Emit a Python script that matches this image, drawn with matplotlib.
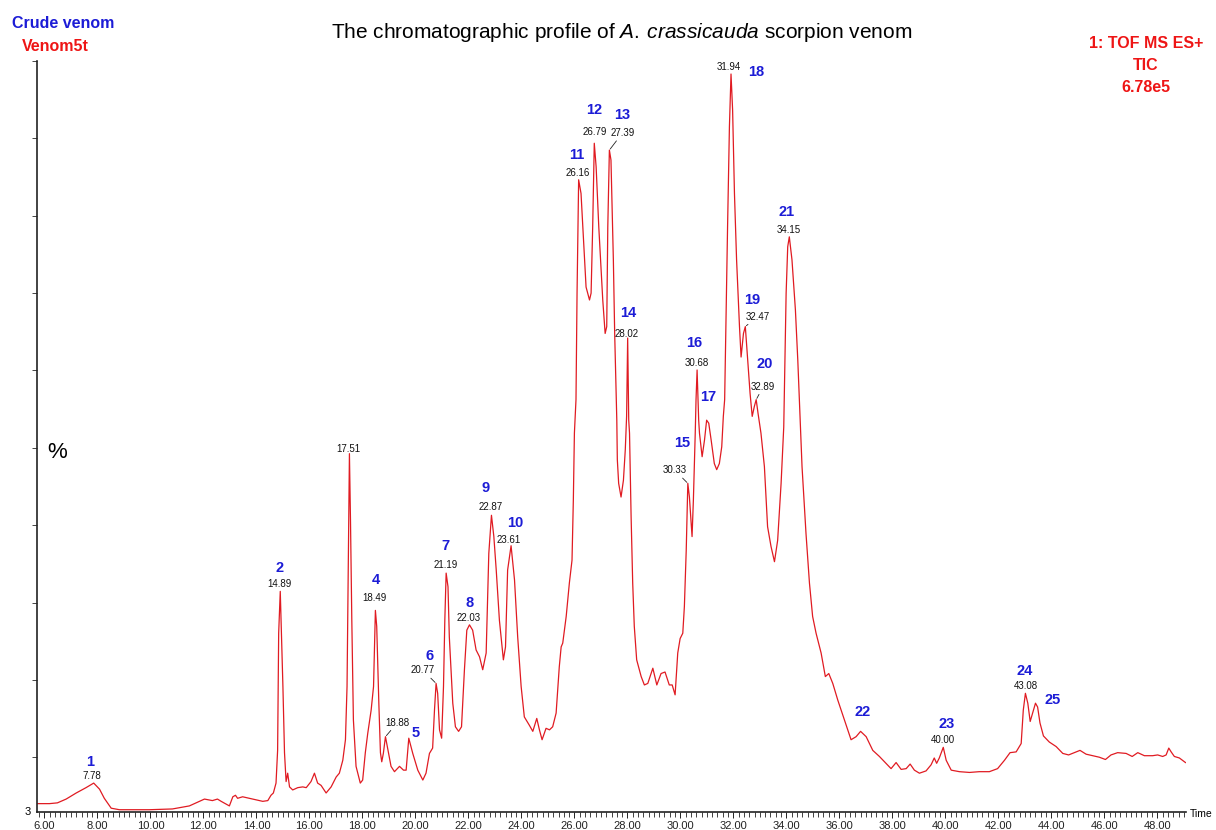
import numpy as np
import matplotlib
matplotlib.use("Agg")
import matplotlib.pyplot as plt
from matplotlib.ticker import MultipleLocator, FormatStrFormatter

plt.rcParams['font.family'] = ['Liberation Sans', 'DejaVu Sans']
plt.rcParams['mathtext.fontset'] = 'custom'
plt.rcParams['mathtext.rm'] = 'Liberation Sans'
plt.rcParams['mathtext.it'] = 'Liberation Sans:italic'

# TIC trace (retention time in min, relative intensity in %)
time_min = [
    5.75, 6.19, 6.49, 6.82, 7.20, 7.57, 7.86, 8.08, 8.26, 8.52, 8.83, 9.96, 10.83, 11.47,
    12.04, 12.34, 12.53, 12.67, 12.98, 13.11, 13.21, 13.29, 13.48, 13.86, 14.24, 14.43,
    14.55, 14.64, 14.74, 14.80, 14.82, 14.84, 14.90, 14.93, 15.00, 15.06, 15.12, 15.18,
    15.25, 15.37, 15.56, 15.75, 15.88, 16.06, 16.19, 16.31, 16.44, 16.63, 16.82, 17.01,
    17.13, 17.26, 17.36, 17.42, 17.46, 17.51, 17.55, 17.60, 17.66, 17.76, 17.92, 18.01,
    18.11, 18.20, 18.33, 18.42, 18.49, 18.54, 18.62, 18.68, 18.73, 18.79, 18.87, 18.95,
    19.08, 19.21, 19.40, 19.55, 19.65, 19.75, 19.90, 20.09, 20.28, 20.40, 20.53, 20.65,
    20.72, 20.78, 20.84, 20.91, 20.99, 21.06, 21.11, 21.16, 21.23, 21.28, 21.41, 21.51,
    21.63, 21.74, 21.85, 21.94, 22.04, 22.16, 22.29, 22.42, 22.54, 22.67, 22.77, 22.87,
    22.96, 23.05, 23.17, 23.32, 23.40, 23.48, 23.61, 23.74, 23.86, 23.99, 24.11, 24.30,
    24.43, 24.58, 24.68, 24.78, 24.93, 25.06, 25.18, 25.31, 25.43, 25.50, 25.56, 25.69,
    25.81, 25.91, 25.96, 26.00, 26.06, 26.10, 26.16, 26.25, 26.35, 26.44, 26.57, 26.63,
    26.69, 26.75, 26.82, 26.92, 27.07, 27.16, 27.22, 27.26, 27.32, 27.38, 27.47, 27.52,
    27.60, 27.62, 27.67, 27.76, 27.85, 27.92, 27.97, 28.01, 28.05, 28.08, 28.14, 28.20,
    28.26, 28.35, 28.52, 28.64, 28.77, 28.96, 29.11, 29.27, 29.42, 29.58, 29.69, 29.80,
    29.90, 29.99, 30.09, 30.15, 30.22, 30.28, 30.34, 30.44, 30.49, 30.56, 30.59, 30.63,
    30.69, 30.72, 30.82, 30.91, 30.99, 31.07, 31.16, 31.28, 31.37, 31.47, 31.56, 31.62,
    31.67, 31.78, 31.85, 31.91, 31.97, 32.04, 32.12, 32.23, 32.29, 32.38, 32.45, 32.54,
    32.63, 32.71, 32.79, 32.86, 32.93, 33.04, 33.17, 33.29, 33.42, 33.55, 33.67, 33.80,
    33.90, 33.99, 34.05, 34.11, 34.21, 34.34, 34.43, 34.52, 34.59, 34.74, 34.87, 34.99,
    35.12, 35.31, 35.47, 35.60, 35.75, 35.94, 36.19, 36.44, 36.63, 36.80, 37.01, 37.26,
    37.51, 37.76, 37.95, 38.14, 38.33, 38.52, 38.67, 38.83, 39.02, 39.27, 39.46, 39.58,
    39.67, 39.77, 39.92, 40.03, 40.22, 40.53, 40.91, 41.28, 41.66, 41.97, 42.23, 42.44,
    42.67, 42.86, 42.94, 43.02, 43.11, 43.20, 43.29, 43.40, 43.48, 43.57, 43.70, 43.92,
    44.18, 44.43, 44.65, 44.87, 45.08, 45.31, 45.56, 45.81, 46.04, 46.25, 46.50, 46.82,
    47.05, 47.26, 47.51, 47.82, 48.01, 48.20, 48.33, 48.43, 48.52, 48.64, 48.83, 49.06,
]
intensity = [
    4.1, 4.1, 4.2, 4.7, 5.5, 6.2, 6.8, 6.0, 4.8, 3.5, 3.3, 3.3, 3.4, 3.8,
    4.7, 4.5, 4.7, 4.4, 3.8, 5.0, 5.2, 4.8, 5.0, 4.7, 4.4, 4.5,
    5.2, 5.5, 6.8, 11.1, 19.5, 26.5, 32.0, 28.2, 19.5, 10.8, 7.0, 8.1,
    6.3, 5.9, 6.2, 6.3, 6.2, 7.0, 8.1, 6.8, 6.5, 5.5, 6.3, 7.6,
    8.1, 9.8, 12.5, 19.5, 32.6, 50.1, 41.4, 28.2, 15.1, 9.0, 6.8, 7.2,
    10.8, 13.3, 16.4, 19.5, 29.5, 27.4, 17.3, 10.8, 9.6, 10.7, 12.9, 11.4,
    9.0, 8.3, 9.0, 8.5, 8.5, 12.7, 10.7, 8.5, 7.2, 8.1, 10.7, 11.4,
    16.4, 19.9, 18.6, 13.8, 12.7, 19.5, 28.2, 34.4, 32.6, 26.0, 17.3, 14.2,
    13.6, 14.2, 21.7, 26.9, 27.6, 26.9, 24.3, 23.4, 21.7, 23.9, 37.0, 42.0,
    39.2, 34.8, 28.2, 23.0, 24.7, 34.8, 38.0, 33.5, 26.0, 19.5, 15.5, 14.4,
    13.6, 15.3, 13.8, 12.5, 14.0, 13.8, 14.2, 16.0, 22.1, 24.7, 25.2, 28.7,
    33.1, 36.1, 44.0, 52.8, 57.2, 71.2, 86.1, 84.3, 77.7, 72.0, 70.3, 71.2,
    79.9, 90.9, 87.8, 79.9, 70.3, 65.9, 66.8, 79.9, 90.0, 88.7, 75.6, 65.9,
    54.5, 49.3, 46.2, 44.4, 46.6, 50.6, 55.0, 65.3, 54.5, 52.8, 41.8, 33.1,
    27.4, 23.0, 20.8, 19.7, 19.9, 21.9, 19.7, 21.2, 21.4, 19.7, 19.7, 18.4,
    23.9, 25.8, 26.5, 30.0, 37.4, 46.2, 44.4, 39.2, 44.0, 52.8, 57.2, 61.1,
    54.5, 52.8, 49.7, 51.9, 54.5, 54.1, 51.9, 48.8, 48.0, 48.8, 51.0, 55.0,
    57.2, 79.9, 93.1, 100.0, 95.3, 84.3, 75.6, 66.8, 62.8, 65.9, 66.8, 62.4,
    58.0, 55.0, 56.3, 57.2, 55.4, 52.8, 48.4, 40.5, 37.9, 35.9, 38.7, 46.2,
    53.6, 71.2, 77.3, 78.6, 75.6, 69.0, 62.4, 54.5, 48.4, 39.6, 33.1, 28.7,
    26.5, 23.9, 20.8, 21.2, 19.9, 17.7, 15.1, 12.5, 12.9, 13.6, 12.9, 11.1,
    10.3, 9.4, 8.7, 9.5, 8.6, 8.7, 9.3, 8.5, 8.1, 8.4, 9.2, 10.1,
    9.4, 10.1, 11.5, 9.8, 8.5, 8.3, 8.2, 8.3, 8.3, 8.7, 9.8, 10.8,
    10.9, 12.0, 16.4, 18.6, 17.3, 14.9, 16.0, 17.3, 16.8, 14.7, 13.0, 12.2,
    11.6, 10.7, 10.5, 10.8, 11.1, 10.6, 10.4, 10.2, 9.9, 10.5, 10.8, 10.7,
    10.3, 10.8, 10.4, 10.4, 10.5, 10.3, 10.5, 11.4, 10.9, 10.3, 10.1, 9.5,
]

# peaks: approximate apex time, blue peak number, printed retention time
peak_rt = [7.78, 14.89, 17.51, 18.49, 18.88, 19.75, 20.77, 21.19, 22.03, 22.87, 23.61,
           26.16, 26.79, 27.39, 28.02, 30.33, 30.68, 31.04, 31.94, 32.47, 32.89, 34.15,
           36.80, 40.00, 43.08, 43.40]
peak_num = ["1", "2", "", "4", "", "5", "6", "7", "8", "9", "10", "11", "12", "13", "14",
            "15", "16", "17", "18", "19", "20", "21", "22", "23", "24", "25"]
peak_label = ["7.78", "14.89", "17.51", "18.49", "18.88", "", "20.77", "21.19", "22.03",
              "22.87", "23.61", "26.16", "26.79", "27.39", "28.02", "30.33", "30.68", "",
              "31.94", "32.47", "32.89", "34.15", "", "40.00", "43.08", ""]

# label placement (pixel offsets from each apex)
num_off = [(-4, 21), (-1, 23), None, (0, 30), None, (7, 5), (-7, 27), (-1, 27), (0, 22),
           (-6, 27), (4, 23), (-2, 25), (0, 33), (13, 35), (1, 25), (-6, 40), (-3, 27),
           (2, 23), (25, 2), (7, 27), (9, 36), (-3, 25), (2, 19), (3, 23), (-1, 22), (17, 3)]
rt_off = [(-2, 7), (-1, 7), (-1, 5), (-1, 12), (12, 14), None, (-13, 13), (0, 8), (-1, 7),
          (-1, 8), (-2, 6), (-1, 7), (0, 11), (13, 17), (-1, 4), (-13, 13), (0, 7), None,
          (-2, 7), (12, 10), (7, 13), (-1, 7), None, (0, 7), (0, 7), None]
leader = [False, False, False, False, True, False, True, False, False, False, False,
          False, False, True, False, True, False, False, False, True, True, False,
          False, False, False, False]

W, H = 1216, 830
fig = plt.figure(figsize=(W / 100, H / 100), dpi=100)
ax = fig.add_axes([37 / W, 18 / H, (1186 - 37) / W, (812 - 60.7) / H])

t = np.array(time_min)
y = np.array(intensity)
ax.plot(t, y, color='#e01b22', lw=0.9)

full_scale = 101.75
ax.set_xlim(5.72, 49.08)
ax.set_ylim(3.0, full_scale)

for s in ['top', 'right']:
    ax.spines[s].set_visible(False)
for s in ['left', 'bottom']:
    ax.spines[s].set_color('#222222')
    ax.spines[s].set_linewidth(1.2)

ax.xaxis.set_major_locator(MultipleLocator(2))
ax.xaxis.set_minor_locator(MultipleLocator(0.2))
ax.xaxis.set_major_formatter(FormatStrFormatter('%.2f'))
ax.tick_params(axis='x', which='major', direction='out', length=4.5, width=0.7,
               labelsize=8, pad=2, colors='#222222')
ax.tick_params(axis='x', which='minor', direction='out', length=3.5, width=0.6,
               colors='#222222')
ax.set_yticks(full_scale * np.arange(1, 11) / 10)
ax.set_yticklabels([])
ax.tick_params(axis='y', direction='out', length=3.5, width=0.7, colors='#444444')

fig.text(31 / W, 1 - 812 / H, '3', ha='right', va='center', fontsize=8)
fig.text(57 / W, 1 - 452 / H, '%', ha='center', va='center', fontsize=16)
fig.text(1190 / W, 1 - 814 / H, 'Time', ha='left', va='center', fontsize=7.5)

for i, rt in enumerate(peak_rt):
    win = np.abs(t - rt) <= 0.12
    j = np.flatnonzero(win)[np.argmax(y[win])]
    apex = (t[j], y[j])
    if peak_num[i]:
        ax.annotate(peak_num[i], apex, xytext=num_off[i], textcoords='offset pixels',
                    ha='center', va='center', color='#1c1cd6', fontsize=10.5,
                    fontweight='bold')
    if peak_label[i]:
        arrow = None
        if leader[i]:
            arrow = dict(arrowstyle='-', lw=0.6, color='#222222', shrinkA=0, shrinkB=1)
        ax.annotate(peak_label[i], apex, xytext=rt_off[i], textcoords='offset pixels',
                    ha='center', va='center', color='#111111', fontsize=7,
                    arrowprops=arrow)

fig.text(622 / W, 1 - 33 / H,
         r'The chromatographic profile of $\mathit{A.\:crassicauda}$ scorpion venom',
         ha='center', va='center', fontsize=15)
fig.text(12 / W, 1 - 24 / H, 'Crude venom', ha='left', va='center', fontsize=11.5,
         fontweight='bold', color='#1c1cd6')
fig.text(22 / W, 1 - 46.5 / H, 'Venom5t', ha='left', va='center', fontsize=11.5,
         fontweight='bold', color='#ee1515')
for k, line in enumerate(['1: TOF MS ES+', 'TIC', '6.78e5']):
    fig.text(1146 / W, 1 - (43.5 + 22 * k) / H, line, ha='center', va='center',
             fontsize=11.5, fontweight='bold', color='#ee1515')

fig.savefig('out.png', dpi=100)
